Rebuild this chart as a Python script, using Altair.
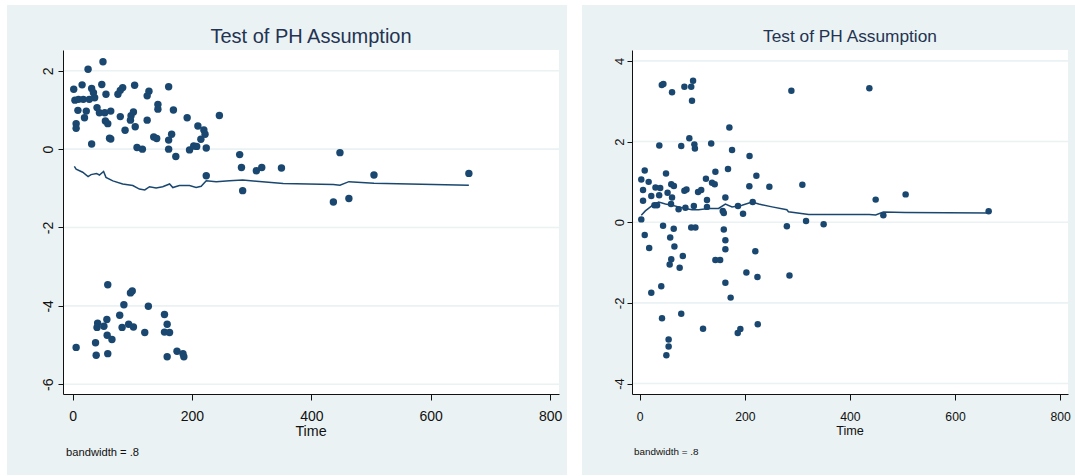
import altair as alt
import pandas as pd

# ---------------- data ----------------
# Left panel: scaled Schoenfeld residuals vs time
left_t = [51, 26, 2, 16, 32, 49, 56, 35, 4, 10, 18, 28, 37, 76, 84, 80, 104, 128, 125, 161,
          9, 6, 6, 23, 20, 41, 45, 54, 64, 55, 59, 32, 62, 64, 80, 88, 98, 102, 97, 105,
          108, 117, 125, 143, 143, 136, 141, 169, 161, 166, 161, 173, 192, 210, 220, 222, 215,
          196, 203, 208, 224, 224, 246, 280, 283, 285, 308, 317, 350, 448, 437, 463, 505, 664,
          59, 97, 100, 86, 127, 154, 79, 57.5, 42, 41, 52.5, 83, 94, 102, 121, 158.5, 154,
          162.5, 58, 66, 38.5, 6, 39.6, 59, 158.5, 175, 185, 186.5]
left_v = [2.23, 2.04, 1.53, 1.64, 1.55, 1.65, 1.40, 1.44, 1.25, 1.27, 1.27, 1.27, 1.31, 1.40,
          1.57, 1.50, 1.63, 1.48, 1.36, 1.59, 0.99, 0.65, 0.53, 0.97, 0.80, 1.06, 0.93, 0.93,
          0.97, 0.72, 0.65, 0.13, 0.28, 0.26, 0.83, 0.48, 0.85, 0.95, 0.74, 0.57, 0.04, 0.00,
          0.74, 1.14, 1.02, 0.31, 0.27, 1.00, 0.23, 0.38, 0.00, -0.19, 0.80, 0.59, 0.49, 0.38,
          0.25, -0.02, 0.08, 0.07, 0.03, -0.68, 0.86, -0.14, -0.47, -1.06, -0.55, -0.47, -0.48,
          -0.09, -1.35, -1.26, -0.66, -0.62,
          -3.46, -3.67, -3.62, -3.97, -4.01, -4.22, -4.24, -4.35, -4.44, -4.55, -4.52, -4.55,
          -4.47, -4.54, -4.68, -4.47, -4.67, -4.68, -4.75, -4.86, -4.94, -5.06, -5.26, -5.22,
          -5.30, -5.16, -5.22, -5.30]
left_line_t = [3, 6, 17, 26, 31, 40, 45, 52, 56, 67.5, 84, 101, 112, 121, 129, 140, 151, 162.6,
               168, 179, 196, 207, 215.5, 224, 240.7, 263, 285, 308, 353, 437, 448, 463, 505, 664]
left_line_v = [-0.44, -0.51, -0.59, -0.70, -0.65, -0.62, -0.66, -0.57, -0.72, -0.81, -0.89,
               -0.93, -1.02, -1.04, -0.96, -0.99, -0.96, -0.89, -0.98, -0.93, -0.93, -0.98,
               -0.95, -0.81, -0.83, -0.81, -0.79, -0.82, -0.88, -0.90, -0.92, -0.83, -0.87, -0.92]

# Right panel
right_t = [42, 45, 85, 98, 101.5, 61.5, 99.5, 288.6, 437, 170.6, 94.4, 37.3, 79, 104, 105, 136,
           175.7, 209, 3, 9.5, 17, 50, 6.3, 6.3, 22, 30, 39, 37, 28, 33, 53, 60, 65, 61.5, 59.6,
           74, 85, 89, 87, 103, 111, 117, 126, 128, 128, 137.6, 142.7, 144, 163, 158, 160, 168,
           187, 196.6, 208.6, 222, 215, 246.7, 309.5, 316.5, 280, 3, 350, 449, 463.6, 506, 664,
           44.4, 64.7, 98, 106, 160, 9.5, 58, 18, 66, 163, 163, 82, 60, 57, 76, 144, 153, 220,
           203, 224, 285, 163, 173, 41, 22, 42.4, 79, 120.5, 186.5, 191.5, 224.6, 55, 55, 50.7]
right_v = [3.40, 3.43, 3.36, 3.36, 3.51, 3.22, 3.01, 3.26, 3.32, 2.35, 2.08, 1.90, 1.89, 1.93,
           1.83, 1.95, 1.79, 1.64, 1.06, 1.28, 1.00, 1.21, 0.80, 0.53, 0.65, 0.86, 0.85, 0.67,
           0.42, 0.42, 0.73, 0.94, 0.90, 0.61, 0.45, 0.32, 0.78, 0.81, 0.36, 0.40, 0.75, 0.80,
           1.08, 0.55, 0.38, 0.98, 0.94, 1.25, 0.61, 0.28, 0.23, 1.32, 0.40, 0.21, 0.89, 1.15,
           0.50, 0.88, 0.93, 0.03, -0.10, 0.07, -0.05, 0.56, 0.17, 0.69, 0.27,
           -0.09, -0.16, -0.13, -0.13, -0.18, -0.32, -0.38, -0.64, -0.60, -0.45, -0.67, -0.84,
           -0.92, -1.05, -1.13, -0.94, -0.94, -0.72, -1.25, -1.36, -1.32, -1.50, -1.87, -1.59,
           -1.75, -2.38, -2.27, -2.64, -2.75, -2.65, -2.53, -2.91, -3.08, -3.30]
right_line_t = [3, 10.7, 23.4, 36, 49, 61.5, 74, 87, 99.5, 112, 131, 150, 163, 175.7, 194.7,
                213.7, 226.5, 251.8, 280, 283, 321.6, 350, 437, 449, 463.6, 505, 664]
right_line_v = [0.17, 0.28, 0.41, 0.50, 0.45, 0.42, 0.38, 0.34, 0.31, 0.31, 0.34, 0.34, 0.45,
                0.38, 0.42, 0.50, 0.45, 0.38, 0.31, 0.26, 0.19, 0.19, 0.19, 0.18, 0.25, 0.24, 0.23]

x_ticks = [0, 200, 400, 600, 800]
left_y_ticks = [-6, -4, -2, 0, 2]
right_y_ticks = [-4, -2, 0, 2, 4]

title_text = "Test of PH Assumption"
x_title = "Time"
note_text = "bandwidth = .8"

# ---------------- styling ----------------
BG = "#EAF2F3"
NAVY = "#1a476f"
TITLE_C = "#243352"
FONT = "Liberation Sans, Arial, sans-serif"


def panel(pt_t, pt_v, ln_t, ln_v, y_ticks, W, H, xdom, ydom, s):
    pts = pd.DataFrame({"t": pt_t, "v": pt_v})
    ln = pd.DataFrame({"t": ln_t, "v": ln_v})
    one = pd.DataFrame({"k": [0]})
    grid_df = pd.DataFrame({"v": y_ticks})

    xs = alt.Scale(domain=xdom, nice=False, zero=False)
    ys = alt.Scale(domain=ydom, nice=False, zero=False)
    x_axis = alt.Axis(values=x_ticks, title=None, grid=False, tickSize=6, tickColor="#111",
                      domainColor="#111", labelColor="#111", labelFont=FONT,
                      labelFontSize=s["xlab"], labelBaseline="alphabetic",
                      labelPadding=s["xpad"], labelFlush=False, labelOverlap=False, zindex=1)
    y_axis = alt.Axis(values=y_ticks, title=None, grid=False, tickSize=5, tickColor="#111",
                      domainColor="#111", labelColor="#111", labelFont=FONT,
                      labelFontSize=s["ylab"], labelAngle=270, labelAlign="center",
                      labelBaseline="alphabetic", labelPadding=s["ypad"],
                      labelExpr="'' + datum.value", labelOverlap=False, zindex=1)

    bg = alt.Chart(one).mark_rect(color=BG).encode(
        x=alt.value(-s["left"]), x2=alt.value(W + s["right"]),
        y=alt.value(-45), y2=alt.value(H + 81))
    white = alt.Chart(one).mark_rect(color="white").encode(
        x=alt.value(0), x2=alt.value(W), y=alt.value(0), y2=alt.value(H))
    grid = alt.Chart(grid_df).mark_rule(color=BG, strokeWidth=1.6).encode(
        y=alt.Y("v:Q", scale=ys, axis=y_axis))
    dots = alt.Chart(pts).mark_circle(color=NAVY, opacity=1, size=s["dot"]).encode(
        x=alt.X("t:Q", scale=xs, axis=x_axis), y=alt.Y("v:Q", scale=ys, axis=y_axis))
    line = alt.Chart(ln).mark_line(color=NAVY, strokeWidth=1.5).encode(
        x=alt.X("t:Q", scale=xs, axis=x_axis), y=alt.Y("v:Q", scale=ys, axis=y_axis))
    title = alt.Chart(one).mark_text(text=title_text, font=FONT, fontSize=s["title"],
                                     color=TITLE_C, align="center", baseline="alphabetic").encode(
        x=alt.value(W / 2), y=alt.value(s["ty"]))
    xt = alt.Chart(one).mark_text(text=x_title, font=FONT, fontSize=s["xt"], color="#111",
                                  align="center", baseline="alphabetic").encode(
        x=alt.value(W / 2), y=alt.value(H + s["xty"]))
    note = alt.Chart(one).mark_text(text=note_text, font=FONT, fontSize=s["note"], color="#111",
                                    align="left", baseline="alphabetic").encode(
        x=alt.value(s["nx"]), y=alt.value(H + s["ny"]))
    return alt.layer(bg, white, grid, dots, line, title, xt, note).properties(width=W, height=H)


left = panel(left_t, left_v, left_line_t, left_line_v, left_y_ticks, 496, 344,
             [-16, 815], [-6.25, 2.53],
             dict(left=56, right=8, xlab=14, xpad=20, ylab=14, ypad=5.5, dot=55, title=20,
                  ty=-7, xt=14.3, xty=42, note=11.2, nx=3, ny=62))
right = panel(right_t, right_v, right_line_t, right_line_v, right_y_ticks, 436, 344,
              [-14.7, 815], [-4.26, 4.27],
              dict(left=50, right=7, xlab=12.2, xpad=20, ylab=13, ypad=4, dot=42, title=17.3,
                   ty=-8, xt=12.7, xty=41, note=9.9, nx=2, ny=61))

chart = alt.hconcat(left, right, spacing=15).properties(
    padding={"left": 7, "top": 5, "right": 0, "bottom": 1},
    background="white",
).configure_view(stroke=None)

chart.save("out.html", embed_options={"renderer": "svg", "actions": False})
